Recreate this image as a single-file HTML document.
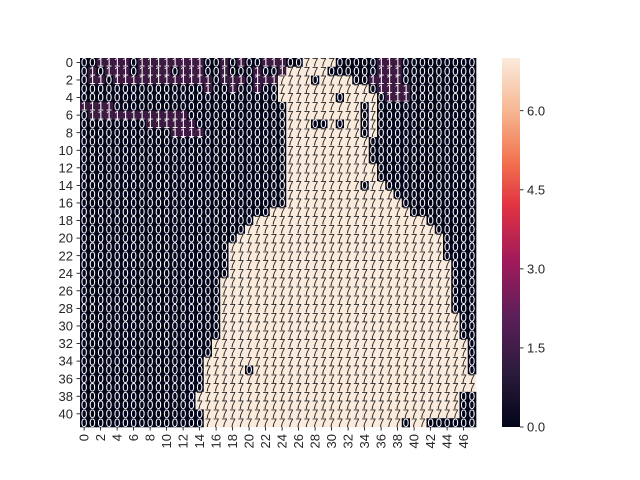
<!DOCTYPE html>
<html><head><meta charset="utf-8"><style>
html,body{margin:0;padding:0;background:#fff;}
svg{display:block;font-family:"Liberation Sans","DejaVu Sans",sans-serif;}
</style></head><body>
<svg id="chart" width="640" height="480" viewBox="0 0 640 480">
<defs>
<linearGradient id="rocket" x1="0" y1="1" x2="0" y2="0">
<stop offset="0" stop-color="#03051a"/>
<stop offset="0.15" stop-color="#2c1b3c"/>
<stop offset="0.3" stop-color="#5c1f5a"/>
<stop offset="0.45" stop-color="#a11a5b"/>
<stop offset="0.6" stop-color="#e13342"/>
<stop offset="0.72" stop-color="#f2724f"/>
<stop offset="0.85" stop-color="#f6b48e"/>
<stop offset="1" stop-color="#faebdd"/>
</linearGradient>
</defs>
<g id="cells"></g>
<g id="annots"></g>
<g id="yaxis"></g>
<g id="xaxis"></g>
<rect x="502" y="58" width="18" height="369" fill="url(#rocket)"/>
<g id="cbaxis"></g>
</svg>
<script>
const rows = [
"001111011111111001010011100777700000111000000000",
"010111011110111001000100177777000000111000000000",
"011011111111111101110111777707777001111000000000",
"000000000000000100100100777777777770111100000000",
"000000000000000000000000777777707777011100000000",
"111100000000000000000000077777777707000000000000",
"011111111111100000000000077777777707000000000000",
"000000001111110000000000077700707707000000000000",
"000000000001111000000000077777777707000000000000",
"000000000000000000000000077777777770000000000000",
"000000000000000000000000077777777770000000000000",
"000000000000000000000000077777777770000000000000",
"000000000000000000000000077777777777000000000000",
"000000000000000000000000077777777777000000000000",
"000000000000000000000000077777777707700000000000",
"000000000000000000000000077777777777770000000000",
"000000000000000000000000077777777777777000000000",
"000000000000000000000007777777777777777700000000",
"000000000000000000000777777777777777777777000000",
"000000000000000000007777777777777777777777700000",
"000000000000000000077777777777777777777777770000",
"000000000000000000777777777777777777777777770000",
"000000000000000000777777777777777777777777770000",
"000000000000000000777777777777777777777777777000",
"000000000000000000777777777777777777777777777000",
"000000000000000007777777777777777777777777777000",
"000000000000000007777777777777777777777777777000",
"000000000000000007777777777777777777777777777000",
"000000000000000007777777777777777777777777777000",
"000000000000000007777777777777777777777777777700",
"000000000000000007777777777777777777777777777700",
"000000000000000007777777777777777777777777777700",
"000000000000000077777777777777777777777777777770",
"000000000000000077777777777777777777777777777770",
"000000000000000777777777777777777777777777777770",
"000000000000000777770777777777777777777777777770",
"000000000000000777777777777777777777777777777777",
"000000000000000777777777777777777777777777777777",
"000000000000007777777777777777777777777777777700",
"000000000000007777777777777777777777777777777700",
"000000000000000777777777777777777777777777777700",
"000000000000000777777777777777777777777077000000"
];
const vmin = 0, vmax = 7;
const cbTicks = [0.0, 1.5, 3.0, 4.5, 6.0];
const cbLabels = ["0.0", "1.5", "3.0", "4.5", "6.0"];

const NS = "http://www.w3.org/2000/svg";
const X0 = 80, X1 = 476, Y0 = 58, Y1 = 427;
const nR = rows.length, nC = rows[0].length;
const cw = (X1 - X0) / nC, rh = (Y1 - Y0) / nR;
function xs(c){ return X0 + c * cw; }
function ys(r){ return Y0 + r * rh; }
function cbY(v){ return Y1 - (v - vmin) / (vmax - vmin) * (Y1 - Y0); }
function color(v){ return v >= 7 ? "#faebdd" : (v >= 1 ? "#3d1a41" : "#03051a"); }
function mk(tag, attrs){ const e = document.createElementNS(NS, tag); for (const k in attrs) e.setAttribute(k, attrs[k]); return e; }

const cells = document.getElementById("cells"), annots = document.getElementById("annots");
for (let r = 0; r < nR; r++) {
  for (let c = 0; c < nC; c++) {
    const v = +rows[r][c];
    const rect = mk("rect", {x: xs(c).toFixed(2), y: ys(r).toFixed(2), width: (cw + 0.3).toFixed(2), height: (rh + 0.3).toFixed(2), fill: color(v)});
    
    
    cells.appendChild(rect);
    const cx = xs(c) + cw / 2, cy = ys(r) + rh / 2 + 4.2;
    const t = mk("text", {x: cx.toFixed(2), y: cy.toFixed(2), "text-anchor": "middle", "font-size": "12", fill: v >= 4 ? "#262626" : "#ffffff", transform: `translate(${cx.toFixed(2)} 0) scale(0.95 1) translate(${(-cx).toFixed(2)} 0)`});
    t.textContent = String(v);
    
    
    annots.appendChild(t);
  }
}
const yaxis = document.getElementById("yaxis");
for (let r = 0; r < nR; r += 2) {
  const y = ys(r) + rh / 2;
  const tk = mk("line", {x1: X0 - 3.5, x2: X0, y1: y, y2: y, stroke: "#000", "stroke-width": 0.8});
  
  
  yaxis.appendChild(tk);
  const t = mk("text", {x: X0 - 7, y: y + 4.6, "text-anchor": "end", "font-size": "13", fill: "#262626"});
  t.textContent = String(r);
  
  
  yaxis.appendChild(t);
}
const xaxis = document.getElementById("xaxis");
for (let c = 0; c < nC; c += 2) {
  const x = xs(c) + cw / 2;
  const tk = mk("line", {x1: x, x2: x, y1: Y1, y2: Y1 + 3.5, stroke: "#000", "stroke-width": 0.8});
  
  
  xaxis.appendChild(tk);
  const t = mk("text", {x: x + 4.6, y: Y1 + 7, "text-anchor": "end", "font-size": "13", fill: "#262626", transform: `rotate(-90 ${x + 4.6} ${Y1 + 7})`});
  t.textContent = String(c);
  
  
  xaxis.appendChild(t);
}
const cb = document.getElementById("cbaxis");
cbTicks.forEach((v, i) => {
  const y = cbY(v);
  const tk = mk("line", {x1: 520, x2: 523.5, y1: y, y2: y, stroke: "#000", "stroke-width": 0.8});
  
  
  cb.appendChild(tk);
  const t = mk("text", {x: 527, y: y + 4.6, "font-size": "13", fill: "#262626"});
  t.textContent = cbLabels[i];
  
  
  cb.appendChild(t);
});
</script>
</body></html>
